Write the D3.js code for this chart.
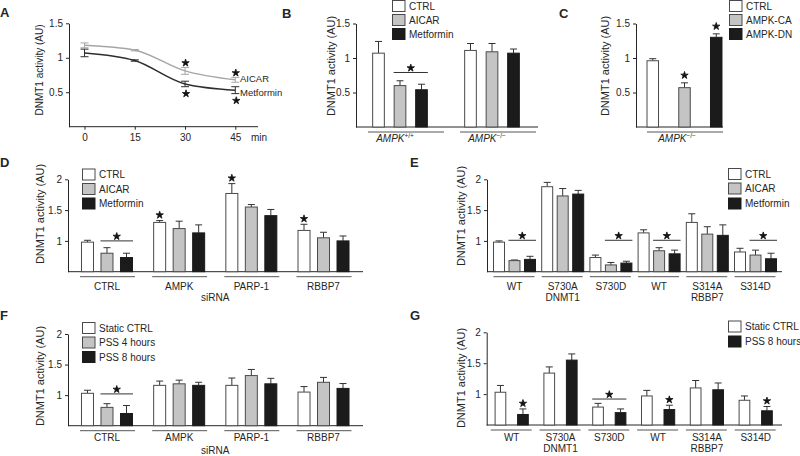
<!DOCTYPE html>
<html><head><meta charset="utf-8">
<script src="https://cdn.jsdelivr.net/npm/d3@7"></script>
<style>
body{margin:0;background:#fff;}
svg{display:block;font-family:"Liberation Sans",Arial,Helvetica,sans-serif;}
</style></head><body>
<svg id="chart" width="800" height="456"></svg>
<script>
// ---------- DATA ----------
// Panel A (time course)
const aTime = [0, 15, 30, 45];
const aAicar = [1.18, 1.11, 0.81, 0.68];
const aAicarErr = [0.035, 0.01, 0.05, 0.035];
const aMetf = [1.07, 0.96, 0.62, 0.53];
const aMetfErr = [0.055, 0.01, 0.04, 0.05];
const aStarTimes = [30, 45];
const aTicksY = [0.5, 1, 1.5];

// Panel B
const bGroups = ["AMPK", "AMPK"];
const bGroupSup = ["+/+", "\u2212/\u2212"];
const bSeries = ["CTRL", "AICAR", "Metformin"];
const bCtrl = [1.07, 1.11];
const bAicar = [0.60, 1.09];
const bMetf = [0.54, 1.07];
const bCtrlErr = [0.17, 0.10];
const bAicarErr = [0.07, 0.12];
const bMetfErr = [0.08, 0.06];

// Panel C
const cGroups = ["AMPK"];
const cGroupSup = ["\u2212/\u2212"];
const cSeries = ["CTRL", "AMPK-CA", "AMPK-DN"];
const cCtrl = [0.96];
const cCa = [0.57];
const cDn = [1.30];
const cCtrlErr = [0.03];
const cCaErr = [0.07];
const cDnErr = [0.05];

// Panel D (siRNA)
const dGroups = ["CTRL", "AMPK", "PARP-1", "RBBP7"];
const dSeries = ["CTRL", "AICAR", "Metformin"];
const dCtrl = [0.98, 1.30, 1.77, 1.17];
const dAicar = [0.80, 1.20, 1.55, 1.05];
const dMetf = [0.73, 1.13, 1.41, 1.00];
const dCtrlErr = [0.03, 0.03, 0.16, 0.10];
const dAicarErr = [0.09, 0.12, 0.04, 0.09];
const dMetfErr = [0.07, 0.13, 0.10, 0.08];

// Panel E (mutants)
const eGroups = ["WT", "S730A", "S730D", "WT", "S314A", "S314D"];
const eSeries = ["CTRL", "AICAR", "Metformin"];
const eCtrl = [0.98, 1.88, 0.73, 1.13, 1.30, 0.82];
const eAicar = [0.68, 1.73, 0.61, 0.84, 1.11, 0.77];
const eMetf = [0.70, 1.76, 0.64, 0.79, 1.09, 0.71];
const eCtrlErr = [0.02, 0.07, 0.04, 0.05, 0.14, 0.06];
const eAicarErr = [0.01, 0.12, 0.04, 0.05, 0.12, 0.08];
const eMetfErr = [0.05, 0.06, 0.03, 0.06, 0.17, 0.09];

// Panel F (siRNA, shear stress)
const fGroups = ["CTRL", "AMPK", "PARP-1", "RBBP7"];
const fSeries = ["Static CTRL", "PSS 4 hours", "PSS 8 hours"];
const fStatic = [1.03, 1.16, 1.16, 1.05];
const fPss4 = [0.80, 1.185, 1.32, 1.21];
const fPss8 = [0.70, 1.16, 1.185, 1.11];
const fStaticErr = [0.05, 0.07, 0.12, 0.09];
const fPss4Err = [0.06, 0.06, 0.10, 0.08];
const fPss8Err = [0.13, 0.05, 0.09, 0.08];

// Panel G (mutants, shear stress)
const gGroups = ["WT", "S730A", "S730D", "WT", "S314A", "S314D"];
const gSeries = ["Static CTRL", "PSS 8 hours"];
const gStatic = [1.03, 1.34, 0.79, 0.97, 1.10, 0.90];
const gPss8 = [0.67, 1.55, 0.70, 0.75, 1.07, 0.73];
const gStaticErr = [0.11, 0.10, 0.06, 0.09, 0.12, 0.07];
const gPss8Err = [0.09, 0.10, 0.06, 0.07, 0.11, 0.07];

const ticksLow = [0.5, 1, 1.5];
const ticksHigh = [1, 1.5, 2];

// ---------- DRAWING ----------
const svg = d3.select("#chart");
const INK = "#262626";
const EDGE = "#4a4a4a";
const WHITE = "#ffffff", GRAY = "#c4c4c4", BLACK = "#1b1b1b";
const FS = 10;

function txt(g, x, y, s, o = {}) {
  return g.append("text").attr("x", x).attr("y", y).text(s)
    .attr("font-size", o.size || FS).attr("fill", INK)
    .attr("text-anchor", o.anchor || "start")
    .attr("font-weight", o.weight || null)
    .attr("font-style", o.style || null);
}
function panelLetter(x, y, s) { txt(svg, x, y, s, {size: 13, weight: "bold"}); }
function yLabel(x, yc, size) {
  svg.append("text").attr("transform", `translate(${x},${yc}) rotate(-90)`)
    .attr("text-anchor", "middle").attr("dy", "0.35em")
    .attr("font-size", size).attr("fill", INK).text("DNMT1 activity (AU)");
}
function leftAxis(g, y, x, ticks) {
  const a = g.append("g").attr("transform", `translate(${x},0)`)
    .call(d3.axisLeft(y).tickValues(ticks).tickFormat(d3.format(""))
      .tickSize(3).tickSizeOuter(0).tickPadding(3));
  a.attr("font-family", null).attr("font-size", FS);
  a.selectAll("path, line").attr("stroke", INK);
  a.selectAll("text").attr("fill", INK);
  return a;
}
function star(g, x, y) {
  g.append("path").attr("transform", `translate(${x},${y})`)
    .attr("d", d3.symbol(d3.symbolStar, 17)()).attr("fill", "#111")
    .attr("stroke", "#111").attr("stroke-width", 0.8).attr("stroke-linejoin", "round");
}
function legend(g, x, tops, labels, fills) {
  labels.forEach((l, i) => {
    g.append("rect").attr("x", x + 0.5).attr("y", tops[i] + 0.5)
      .attr("width", 12.5).attr("height", 11)
      .attr("fill", fills[i]).attr("stroke", fills[i] === BLACK ? BLACK : EDGE);
    txt(g, x + 17, tops[i] + 9.5, l);
  });
}

function barPanel(c) {
  const g = svg.append("g");
  const y = d3.scaleLinear().domain(c.yDomain).range(c.yRange);
  const base = y(c.yDomain[0]);
  const xg = d3.scaleBand().domain(d3.range(c.groups.length)).range(c.groupRange);
  const xs = d3.scaleBand().domain(c.series).range([-c.half, c.half])
    .paddingInner(c.pi).paddingOuter(c.pi / 2);
  const cx = i => xg(i) + xg.bandwidth() / 2;
  const bw = xs.bandwidth();
  const bx = (gi, si) => cx(gi) + xs(c.series[si]);

  leftAxis(g, y, c.axisX, c.ticks);
  g.append("line").attr("x1", c.axisX).attr("x2", c.axisEnd)
    .attr("y1", base).attr("y2", base).attr("stroke", INK);

  c.series.forEach((s, si) => {
    const rows = c.values[si].map((v, gi) => ({v, e: c.errors[si][gi], gi}));
    const sg = g.append("g");
    const stroke = c.fills[si] === BLACK ? BLACK : EDGE;
    sg.selectAll("line.eb").data(rows).join("line").attr("class", "eb")
      .attr("x1", d => bx(d.gi, si) + bw / 2).attr("x2", d => bx(d.gi, si) + bw / 2)
      .attr("y1", d => y(d.v)).attr("y2", d => y(d.v + d.e)).attr("stroke", "#333");
    sg.selectAll("line.cap").data(rows).join("line").attr("class", "cap")
      .attr("x1", d => bx(d.gi, si) + bw / 2 - 3.5).attr("x2", d => bx(d.gi, si) + bw / 2 + 3.5)
      .attr("y1", d => y(d.v + d.e)).attr("y2", d => y(d.v + d.e)).attr("stroke", "#333");
    sg.selectAll("rect").data(rows).join("rect")
      .attr("x", d => bx(d.gi, si) + 0.5).attr("y", d => y(d.v))
      .attr("width", bw - 1).attr("height", d => base - y(d.v))
      .attr("fill", c.fills[si]).attr("stroke", stroke);
  });

  // group underlines and labels
  c.groups.forEach((name, gi) => {
    g.append("line").attr("x1", cx(gi) + c.ul[0]).attr("x2", cx(gi) + c.ul[1])
      .attr("y1", base + 5).attr("y2", base + 5).attr("stroke", "#555");
    if (c.sup) {
      const t = txt(g, cx(gi) + (c.labelDx || 0), c.labelY, "", {anchor: "middle"});
      t.append("tspan").attr("font-style", "italic").text(name);
      t.append("tspan").attr("font-size", 6.5).attr("dy", -4).text(c.sup[gi]);
    } else {
      txt(g, cx(gi), c.labelY, name, {anchor: "middle"});
    }
  });
  (c.subLabels || []).forEach(sl => {
    const x = sl.at === "mid" ? (cx(0) + cx(c.groups.length - 1)) / 2 : cx(sl.at);
    txt(g, x, c.subY, sl.text, {anchor: "middle"});
  });

  // significance lines
  (c.sigLines || []).forEach(s => {
    const x1 = bx(s.g, s.s0), x2 = bx(s.g, s.s1) + bw;
    g.append("line").attr("x1", x1).attr("x2", x2).attr("y1", y(s.v)).attr("y2", y(s.v))
      .attr("stroke", "#333");
    star(g, (x1 + x2) / 2, y(s.v) - 4.5);
  });
  (c.barStars || []).forEach(s => {
    const v = c.values[s.s][s.g] + c.errors[s.s][s.g];
    star(g, bx(s.g, s.s) + bw / 2, y(v) - (c.starOff || 5.5));
  });

  legend(g, c.legendX, c.legendTops, c.series, c.fills);
  return g;
}

// ---------- PANEL A ----------
(function () {
  const g = svg.append("g");
  const x = d3.scaleLinear().domain([0, 45]).range([84.5, 235.3]);
  const y = d3.scaleLinear().domain([0, 1.5]).range([126.7, 23.3]);
  leftAxis(g, y, 69, aTicksY);
  g.append("line").attr("x1", 69).attr("x2", 258).attr("y1", y(0)).attr("y2", y(0)).attr("stroke", INK);
  const xa = g.append("g").attr("transform", `translate(0,${y(0)})`)
    .call(d3.axisBottom(x).tickValues(aTime).tickSize(3).tickPadding(4));
  xa.attr("font-family", null).attr("font-size", FS);
  xa.select(".domain").remove();
  xa.selectAll("line").attr("stroke", INK);
  xa.selectAll("text").attr("fill", INK);
  txt(g, 251, 140.5, "min");

  const series = [
    {v: aAicar, e: aAicarErr, col: "#a6a6a6"},
    {v: aMetf, e: aMetfErr, col: "#2e2e2e"}
  ];
  const line = d3.line().x((d, i) => x(aTime[i])).y(d => y(d)).curve(d3.curveMonotoneX);
  series.forEach(s => {
    g.append("path").attr("d", line(s.v)).attr("fill", "none").attr("stroke", s.col).attr("stroke-width", 1.5);
    s.v.forEach((v, i) => {
      const cxp = x(aTime[i]);
      g.append("line").attr("x1", cxp).attr("x2", cxp).attr("y1", y(v - s.e[i])).attr("y2", y(v + s.e[i])).attr("stroke", s.col);
      [v - s.e[i], v + s.e[i]].forEach(w => g.append("line").attr("x1", cxp - 4).attr("x2", cxp + 4)
        .attr("y1", y(w)).attr("y2", y(w)).attr("stroke", s.col));
    });
  });
  aStarTimes.forEach(t => {
    const i = aTime.indexOf(t);
    star(g, x(t) + 0.5, y(aAicar[i] + aAicarErr[i]) - 4.5);
    star(g, x(t) + 1, y(aMetf[i] - aMetfErr[i]) + 7);
  });
  txt(g, 240, 81.8, "AICAR", {size: 9.5});
  txt(g, 240, 96, "Metformin", {size: 9.5});
})();
panelLetter(0, 17, "A");
yLabel(39.5, 70, 10);

// ---------- PANEL B ----------
barPanel({
  groups: bGroups, sup: bGroupSup, labelDx: -5, series: bSeries,
  values: [bCtrl, bAicar, bMetf], errors: [bCtrlErr, bAicarErr, bMetfErr],
  fills: [WHITE, GRAY, BLACK],
  yDomain: [0, 1.5], yRange: [127, 23.5], ticks: ticksLow,
  groupRange: [354, 538], half: 32.25, pi: 0.41,
  axisX: 356, axisEnd: 538, ul: [-32, 44], labelY: 141.5,
  sigLines: [{g: 0, s0: 1, s1: 2, v: 0.79}],
  legendX: 392, legendTops: [0, 14, 28]
});
panelLetter(282, 17.5, "B");
yLabel(331.5, 66, 11);

// ---------- PANEL C ----------
barPanel({
  groups: cGroups, sup: cGroupSup, labelDx: -7.5, series: cSeries,
  values: [cCtrl, cCa, cDn], errors: [cCtrlErr, cCaErr, cDnErr],
  fills: [WHITE, GRAY, BLACK],
  yDomain: [0, 1.5], yRange: [127, 23.5], ticks: ticksLow,
  groupRange: [636.9, 732.1], half: 47.6, pi: 0.606,
  axisX: 636, axisEnd: 723, ul: [-37.5, 38.5], labelY: 141.5,
  barStars: [{g: 0, s: 1}, {g: 0, s: 2}], starOff: 7.5,
  legendX: 729, legendTops: [0, 14, 28]
});
panelLetter(559, 17.5, "C");
yLabel(605, 66, 11);

// ---------- PANEL D ----------
barPanel({
  groups: dGroups, series: dSeries,
  values: [dCtrl, dAicar, dMetf], errors: [dCtrlErr, dAicarErr, dMetfErr],
  fills: [WHITE, GRAY, BLACK],
  yDomain: [0.5, 2], yRange: [271.7, 179.3], ticks: ticksHigh,
  groupRange: [70.9, 359.6], half: 29.25, pi: 1 / 3,
  axisX: 68, axisEnd: 363, ul: [-27, 28], labelY: 290,
  subLabels: [{text: "siRNA", at: "mid"}], subY: 301,
  sigLines: [{g: 0, s0: 1, s1: 2, v: 1.0}],
  barStars: [{g: 1, s: 0}, {g: 2, s: 0}, {g: 3, s: 0}],
  legendX: 82, legendTops: [168.5, 183, 197.5]
});
panelLetter(0, 167, "D");
yLabel(40, 214, 11);

// ---------- PANEL E ----------
barPanel({
  groups: eGroups, series: eSeries,
  values: [eCtrl, eAicar, eMetf], errors: [eCtrlErr, eAicarErr, eMetfErr],
  fills: [WHITE, GRAY, BLACK],
  yDomain: [0.5, 2], yRange: [271.7, 179.3], ticks: ticksHigh,
  groupRange: [490.4, 779.6], half: 23.25, pi: 0.226,
  axisX: 487, axisEnd: 782, ul: [-21, 20], labelY: 290,
  subLabels: [{text: "DNMT1", at: 1}, {text: "RBBP7", at: 4}], subY: 300.5,
  sigLines: [{g: 0, s0: 1, s1: 2, v: 1.01}, {g: 2, s0: 1, s1: 2, v: 1.01},
             {g: 3, s0: 1, s1: 2, v: 1.01}, {g: 5, s0: 1, s1: 2, v: 1.01}],
  legendX: 728, legendTops: [168, 182.5, 197.5]
});
panelLetter(410, 167, "E");
yLabel(461.5, 216, 11);

// ---------- PANEL F ----------
barPanel({
  groups: fGroups, series: fSeries,
  values: [fStatic, fPss4, fPss8], errors: [fStaticErr, fPss4Err, fPss8Err],
  fills: [WHITE, GRAY, BLACK],
  yDomain: [0.5, 2], yRange: [425.7, 334], ticks: ticksHigh,
  groupRange: [70.9, 359.6], half: 29.25, pi: 1 / 3,
  axisX: 68, axisEnd: 363, ul: [-27, 28], labelY: 440.5,
  subLabels: [{text: "siRNA", at: "mid"}], subY: 454,
  sigLines: [{g: 0, s0: 1, s1: 2, v: 1.02}],
  legendX: 82, legendTops: [322, 336.5, 351]
});
panelLetter(0, 320, "F");
yLabel(40, 376, 11);

// ---------- PANEL G ----------
barPanel({
  groups: gGroups, series: gSeries,
  values: [gStatic, gPss8], errors: [gStaticErr, gPss8Err],
  fills: [WHITE, BLACK],
  yDomain: [0.5, 2], yRange: [425, 332.3], ticks: ticksHigh,
  groupRange: [487.3, 780.1], half: 22.5, pi: 0.48,
  axisX: 486.7, axisEnd: 782, ul: [-21, 20], labelY: 440.5,
  subLabels: [{text: "DNMT1", at: 1}, {text: "RBBP7", at: 4}], subY: 451.5,
  sigLines: [{g: 2, s0: 0, s1: 1, v: 0.92}],
  barStars: [{g: 0, s: 1}, {g: 3, s: 1}, {g: 5, s: 1}],
  legendX: 728, legendTops: [320.5, 335.5]
});
panelLetter(410, 320, "G");
yLabel(461.5, 378, 11);
</script>
</body></html>
